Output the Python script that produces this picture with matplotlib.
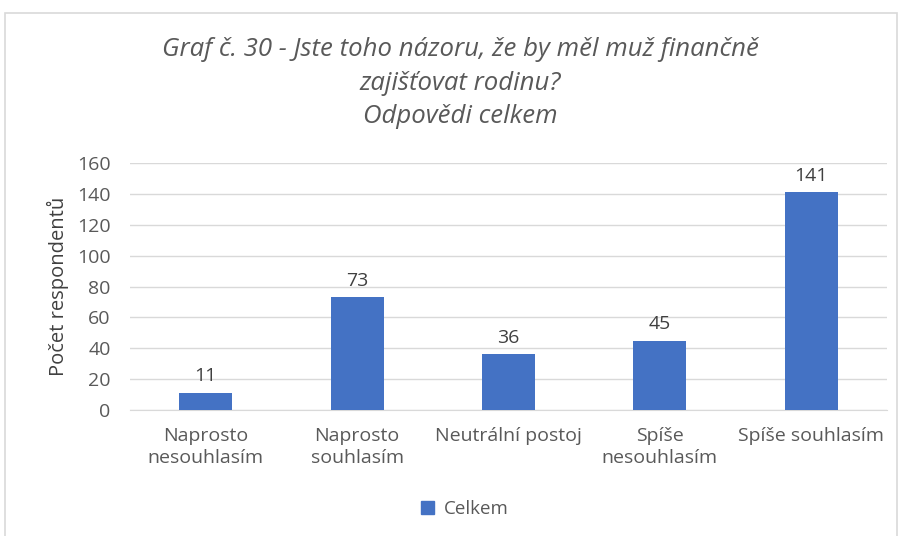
import matplotlib
matplotlib.use('Agg')
import matplotlib.pyplot as plt
from matplotlib.patches import Rectangle, Patch

categories = ["Naprosto\nnesouhlasím", "Naprosto\nsouhlasím", "Neutrální postoj",
              "Spíše\nnesouhlasím", "Spíše souhlasím"]
values = [11, 73, 36, 45, 141]
yticks = [0, 20, 40, 60, 80, 100, 120, 140, 160]

plt.rcParams['font.family'] = ['Open Sans', 'DejaVu Sans']

fig = plt.figure(figsize=(9.02, 5.36), dpi=100)
fig.patches.append(Rectangle((5 / 902, -0.1), 892 / 902, 1.1 - 13 / 536,
                             transform=fig.transFigure, fill=False,
                             edgecolor='#d9d9d9', linewidth=1.2))
ax = fig.add_axes([130 / 902, 1 - 410 / 536, 757 / 902, 247 / 536])

x = list(range(len(categories)))
bars = ax.bar(x, values, width=0.35, color='#4472c4', zorder=3)
for b, v in zip(bars, values):
    ax.text(b.get_x() + b.get_width() / 2, v + 5, str(v), ha='center', va='bottom',
            fontsize=14, color='#404040')

ax.set_xlim(-0.5, len(categories) - 0.5)
ax.set_ylim(0, 160)
ax.set_yticks(yticks)
ax.set_xticks(x)
ax.set_xticklabels(categories, fontsize=14, color='#595959', linespacing=1.3)
ax.tick_params(axis='y', labelsize=14, labelcolor='#595959', length=0, pad=14)
ax.tick_params(axis='x', length=0, pad=12)
ax.grid(axis='y', color='#d9d9d9', linewidth=1, zorder=0)
for s in ['top', 'right', 'left']:
    ax.spines[s].set_visible(False)
ax.spines['bottom'].set_color('#d9d9d9')
ax.set_ylabel("Počet respondentů", fontsize=14.5, color='#404040', labelpad=6)

fig.text(0.51, 1 - 83 / 536, "Graf č. 30 - Jste toho názoru, že by měl muž finančně\nzajišťovat rodinu?\nOdpovědi celkem",
         ha='center', va='center', fontsize=18.5, style='italic', color='#595959',
         linespacing=1.45)

fig.legend(handles=[Patch(color='#4472c4', label='Celkem')], loc='center',
           bbox_to_anchor=(465 / 902, 1 - 509 / 536), frameon=False,
           fontsize=13.5, labelcolor='#595959', handlelength=0.7, handleheight=0.7,
           handletextpad=0.5)

plt.savefig("out.png", dpi=100)
